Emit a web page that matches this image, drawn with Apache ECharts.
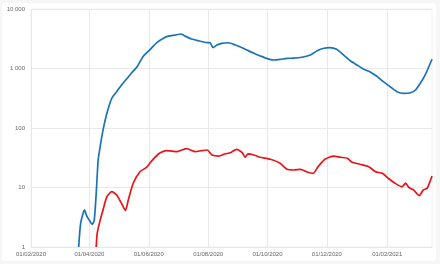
<!DOCTYPE html>
<html><head><meta charset="utf-8">
<script src="https://cdn.jsdelivr.net/npm/echarts@6/dist/echarts.min.js"></script>
<style>html,body{margin:0;padding:0;background:#fff}#c{width:440px;height:264px}</style>
</head><body><div id="c"></div>
<script>
// Category range (daily)
const startDate = '2020-02-01';
const endDate = '2021-03-19';
const yTicks = [1, 10, 100, 1000, 10000];

const blueDates = ['2020-03-21','2020-03-23','2020-03-27','2020-03-29','2020-04-01','2020-04-04','2020-04-06','2020-04-08','2020-04-10','2020-04-12','2020-04-15','2020-04-19','2020-04-24','2020-04-29','2020-05-04','2020-05-09','2020-05-14','2020-05-20','2020-05-26','2020-06-02','2020-06-09','2020-06-16','2020-06-21','2020-06-28','2020-07-04','2020-07-08','2020-07-15','2020-07-22','2020-07-31','2020-08-03','2020-08-06','2020-08-10','2020-08-15','2020-08-22','2020-08-29','2020-09-06','2020-09-17','2020-09-23','2020-09-30','2020-10-07','2020-10-14','2020-10-21','2020-10-28','2020-11-04','2020-11-14','2020-11-21','2020-11-28','2020-12-04','2020-12-11','2020-12-18','2020-12-25','2021-01-01','2021-01-08','2021-01-14','2021-01-21','2021-01-28','2021-02-04','2021-02-11','2021-02-18','2021-02-25','2021-03-02','2021-03-07','2021-03-12','2021-03-19'];
const blueValues = [1,2.5,4.2,3.4,2.8,2.4,2.8,8,29,48,92,177,316,408,528,658,830,1070,1580,2050,2700,3220,3500,3650,3800,3520,3130,2930,2720,2700,2240,2480,2650,2710,2480,2190,1800,1640,1480,1390,1420,1480,1490,1530,1690,1990,2190,2240,2100,1690,1350,1145,970,884,748,600,494,408,383,392,435,564,778,1430];

const redDates = ['2020-04-08','2020-04-09','2020-04-12','2020-04-15','2020-04-19','2020-04-24','2020-04-29','2020-05-04','2020-05-08','2020-05-11','2020-05-16','2020-05-23','2020-05-30','2020-06-04','2020-06-12','2020-06-19','2020-06-25','2020-06-30','2020-07-05','2020-07-10','2020-07-19','2020-07-25','2020-07-31','2020-08-05','2020-08-12','2020-08-18','2020-08-24','2020-08-30','2020-09-05','2020-09-08','2020-09-11','2020-09-17','2020-09-23','2020-10-04','2020-10-14','2020-10-21','2020-10-28','2020-11-04','2020-11-10','2020-11-17','2020-11-22','2020-11-29','2020-12-08','2020-12-15','2020-12-22','2020-12-27','2021-01-04','2021-01-13','2021-01-20','2021-01-27','2021-02-02','2021-02-09','2021-02-16','2021-02-20','2021-02-23','2021-02-28','2021-03-06','2021-03-10','2021-03-14','2021-03-19'];
const redValues = [1,1.7,2.8,4.2,7.0,8.5,7.5,5.4,4.1,6.2,11.8,18.4,22,28,37.6,41.6,41,40,42.7,44.9,40,41.6,42.7,35.2,33.8,36.6,38.5,43.8,38.5,32.2,36.6,35.2,32.2,29.8,25.5,20.2,19.7,20.2,18.4,17.3,22.4,29.8,33.8,32.2,31,26.5,24.6,22.4,18.4,17.3,14.3,11.8,10.3,11.8,10.1,9.1,7.3,9.1,9.7,15.6];

const categories = [];
for (let d = new Date(startDate + 'T00:00:00Z'); d <= new Date(endDate + 'T00:00:00Z'); d.setUTCDate(d.getUTCDate() + 1)) {
  categories.push(d.toISOString().slice(0, 10));
}
function isTick(v) {
  const m = +v.slice(5, 7), day = v.slice(8, 10);
  return day === '01' && m % 2 === 0;
}
function fmtDate(v) { return v.slice(8, 10) + '/' + v.slice(5, 7) + '/' + v.slice(0, 4); }
function fmtNum(v) { return String(Math.round(v)).replace(/\B(?=(\d{3})+(?!\d))/g, ' '); }

const chart = echarts.init(document.getElementById('c'), null, {renderer: 'canvas'});
chart.setOption({
  backgroundColor: '#f6f6f6',
  animation: false,
  graphic: [{type: 'rect', shape: {x: 2, y: 3, width: 434, height: 258, r: 3}, style: {fill: '#fff'}, z: -10, silent: true}],
  grid: {left: 31, right: 8, top: 9, bottom: 17, show: true, backgroundColor: '#fff', borderColor: '#f0f0f0', borderWidth: 1},
  xAxis: {
    type: 'category', data: categories, boundaryGap: false,
    axisLine: {lineStyle: {color: '#e8e8e8'}},
    axisTick: {show: false},
    axisLabel: {interval: (i, v) => isTick(v), formatter: fmtDate, fontSize: 6, color: '#666', fontFamily: 'Liberation Sans', margin: 4},
    splitLine: {show: true, interval: (i, v) => isTick(v), lineStyle: {color: '#e8e8e8'}}
  },
  yAxis: {
    type: 'log', logBase: 10, min: yTicks[0], max: yTicks[yTicks.length - 1],
    axisLine: {show: false}, axisTick: {show: false},
    axisLabel: {formatter: fmtNum, fontSize: 6, color: '#666', fontFamily: 'Liberation Sans', margin: 6},
    splitLine: {lineStyle: {color: '#e8e8e8'}}
  },
  series: [
    {type: 'line', data: blueDates.map((d, i) => [d, blueValues[i]]), showSymbol: false, smooth: 0.2,
     lineStyle: {color: '#1a73b8', width: 1.7}, itemStyle: {color: '#1a73b8'}},
    {type: 'line', data: redDates.map((d, i) => [d, redValues[i]]), showSymbol: false, smooth: 0.2,
     lineStyle: {color: '#e8141a', width: 1.7}, itemStyle: {color: '#e8141a'}}
  ]
});
</script></body></html>
